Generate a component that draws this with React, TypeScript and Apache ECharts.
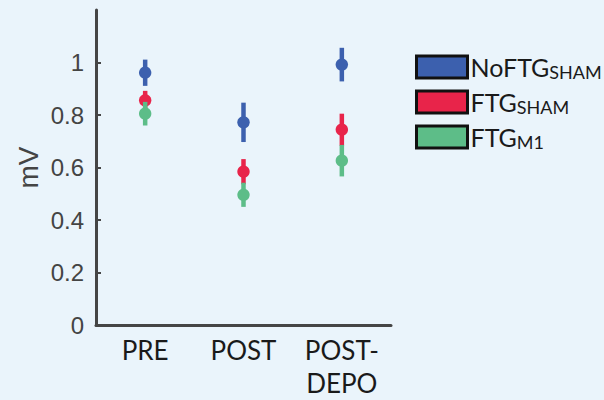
import React, { useEffect, useRef } from "react";
import * as echarts from "echarts";

const categories = ["PRE", "POST", "POST-\nDEPO"];
const seriesNames = ["NoFTGSHAM", "FTGSHAM", "FTGM1"];
const legendMain = ["NoFTG", "FTG", "FTG"];
const legendSub = ["SHAM", "SHAM", "M1"];
const colors = ["#3c60ae", "#e8244a", "#5dbd88"];
const means = [
  [0.961, 0.772, 0.992],
  [0.856, 0.584, 0.744],
  [0.805, 0.496, 0.626],
];
const errors = [
  [0.05, 0.075, 0.064],
  [0.036, 0.048, 0.061],
  [0.045, 0.046, 0.06],
];
const yTicks = [0, 0.2, 0.4, 0.6, 0.8, 1];

export default function App() {
  const ref = useRef<HTMLDivElement>(null);
  useEffect(() => {
    if (!ref.current) return;
    const chart = echarts.init(ref.current, null, { renderer: "svg" });
    const series = seriesNames.map((name, si) => ({
      name,
      type: "custom",
      itemStyle: { color: colors[si] },
      data: means[si].map((m, ci) => [ci, m, m - errors[si][ci], m + errors[si][ci]]),
      renderItem: (params: any, api: any) => {
        const x = api.value(0);
        const top = api.coord([x, api.value(3)]);
        const bot = api.coord([x, api.value(2)]);
        const c = api.coord([x, api.value(1)]);
        return {
          type: "group",
          children: [
            {
              type: "line",
              shape: { x1: top[0], y1: top[1], x2: bot[0], y2: bot[1] },
              style: { stroke: colors[si], lineWidth: 4.5 },
            },
            {
              type: "circle",
              shape: { cx: c[0], cy: c[1], r: 6.2 },
              style: { fill: colors[si] },
            },
          ],
        };
      },
    }));
    chart.setOption({
      animation: false,
      backgroundColor: "#eaf4fb",
      grid: { left: 96, right: 213, top: 10, bottom: 75, outerBoundsMode: "none", containLabel: false },
      legend: {
        orient: "vertical",
        left: 415,
        top: 54,
        padding: 0,
        itemWidth: 51,
        itemHeight: 22,
        itemGap: 8,
        icon: "rect",
        data: seriesNames.map((n, i) => ({
          name: n,
          itemStyle: { color: colors[i], borderColor: "#111", borderWidth: 3 },
        })),
        formatter: (name: string) => {
          const i = seriesNames.indexOf(name);
          return `{a|${legendMain[i]}}{b|${legendSub[i]}}`;
        },
        textStyle: {
          padding: [0, 0, 0, -2],
          rich: {
            a: { fontFamily: "Lato", fontSize: 25, color: "#1a1a1a", verticalAlign: "bottom", lineHeight: 24 },
            b: { fontFamily: "Lato", fontSize: 18, color: "#1a1a1a", verticalAlign: "bottom", lineHeight: 24, padding: [0, 0, -2, 0] },
          },
        },
      },
      xAxis: {
        type: "category",
        data: categories,
        boundaryGap: true,
        axisLine: { lineStyle: { color: "#454545", width: 3 } },
        axisTick: { alignWithLabel: true, inside: true, length: 5, lineStyle: { color: "#454545", width: 2 } },
        axisLabel: {
          fontFamily: "Lato",
          fontSize: 26,
          color: "#1a1a1a",
          margin: 8,
          lineHeight: 33,
          verticalAlign: "top",
        },
      },
      yAxis: {
        type: "value",
        min: 0,
        max: 1.2,
        interval: 0.2,
        name: "mV",
        nameLocation: "middle",
        nameGap: 54,
        nameRotate: 90,
        nameTextStyle: { fontFamily: "Liberation Sans", fontSize: 28, color: "#444" },
        splitLine: { show: false },
        axisLine: { show: true, lineStyle: { color: "#454545", width: 3 } },
        axisTick: {
          show: true,
          inside: true,
          length: 5,
          customValues: yTicks,
          lineStyle: { color: "#454545", width: 2 },
        },
        axisLabel: {
          customValues: yTicks,
          fontFamily: "Liberation Sans",
          fontSize: 24,
          color: "#444",
          margin: 12,
        },
      },
      series,
    });
    return () => chart.dispose();
  }, []);
  return <div ref={ref} style={{ width: 604, height: 400, position: "absolute", left: 0, top: 0 }} />;
}
